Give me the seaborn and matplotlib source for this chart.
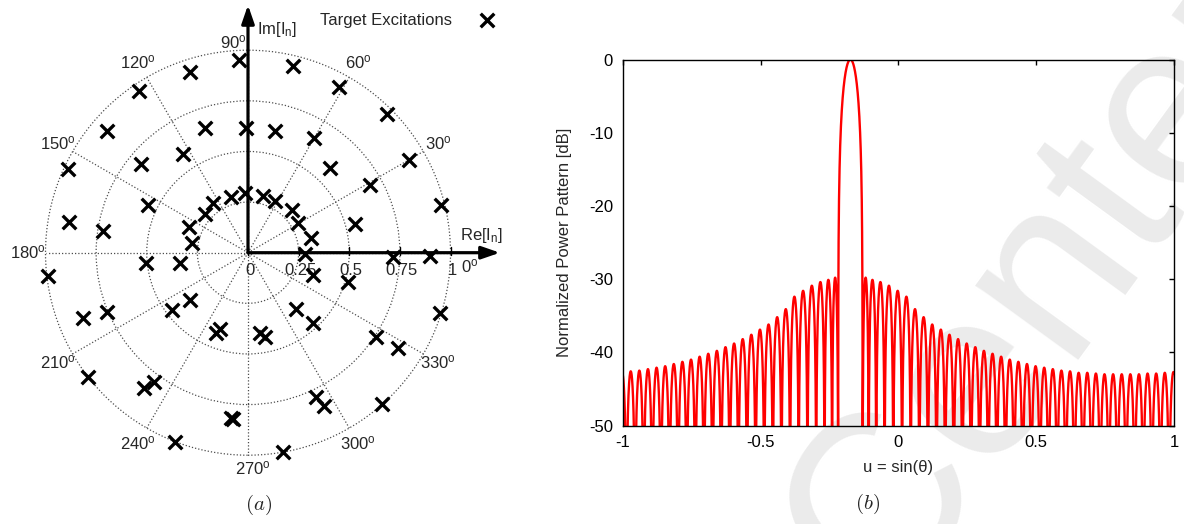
import numpy as np
import pandas as pd
import matplotlib
matplotlib.use("Agg")
import matplotlib.pyplot as plt
import seaborn as sns
from matplotlib.patches import Circle

# ---------------------------------------------------------------------------
# (a) target excitations in the complex plane
# ---------------------------------------------------------------------------
exc_re = [-0.044, -0.286, -0.540, -0.695, -0.212, -0.010, -0.320, -0.528,
          -0.890, -0.492, -0.085, -0.015, -0.174, -0.212, -0.884, -0.715,
          -0.291, -0.278, 0.224, 0.451, 0.685, 0.133, 0.326, 0.405,
          0.795, 0.602, 0.953, 0.076, 0.133, 0.219, 0.245, 0.528,
          0.310, 0.281, -0.504, -0.336, -0.986, -0.813, -0.698, -0.377,
          -0.286, -0.160, -0.138, -0.789, -0.512, -0.464, -0.084, -0.072,
          -0.360, 0.718, 0.899, 0.322, 0.492, 0.236, 0.322, 0.059,
          0.084, 0.631, 0.739, 0.948, 0.334, 0.375, 0.660, 0.174]
exc_im = [0.952, 0.891, 0.800, 0.601, 0.617, 0.616, 0.489, 0.440,
          0.412, 0.236, 0.277, 0.293, 0.244, 0.190, 0.150, 0.107,
          0.125, 0.049, 0.923, 0.820, 0.685, 0.601, 0.565, 0.420,
          0.458, 0.334, 0.236, 0.281, 0.255, 0.211, 0.145, 0.140,
          0.071, -0.006, -0.049, -0.049, -0.115, -0.324, -0.294, -0.283,
          -0.234, -0.398, -0.377, -0.612, -0.670, -0.637, -0.814, -0.821,
          -0.936, -0.023, -0.016, -0.110, -0.146, -0.280, -0.349, -0.398,
          -0.418, -0.418, -0.469, -0.296, -0.711, -0.757, -0.749, -0.983]

ring_radii = [0.25, 0.5, 0.75, 1.0]
ring_labels = ["0", "0.25", "0.5", "0.75", "1"]
spoke_angles = [0, 30, 60, 90, 120, 150, 180, 210, 240, 270, 300, 330]

# ---------------------------------------------------------------------------
# (b) normalized power pattern: main beam direction, lobe nulls and peaks
# ---------------------------------------------------------------------------
beam_u = -0.174            # main beam direction in u = sin(theta)
lobe_step = 0.03125        # far sidelobe spacing in u
# nulls measured from the beam axis, in units of lobe_step
null_pos = [1.42, 2.12, 3.0, 3.97, 4.98, 6, 7, 8, 9, 10, 11, 12, 13, 14, 15,
            16, 17, 18, 19, 20, 21, 22, 23, 24, 25, 26, 27, 28, 29, 30, 31,
            32, 33, 34, 35, 36, 37, 38]
# sidelobe peak levels [dB], first sidelobe outward
sidelobe_db = [-29.8, -30.1, -30.4, -30.9, -31.6, -32.4, -34.1, -35.2, -36.2,
               -36.9, -37.6, -38.2, -38.8, -39.3, -39.8, -40.2, -40.6, -41.0,
               -41.3, -41.6, -41.9, -42.1, -42.3, -42.5, -42.6, -42.8, -42.8,
               -42.9, -43.0, -43.0, -43.0, -43.0, -43.0, -42.9, -42.9, -42.8,
               -42.7]
x_ticks = [-1, -0.5, 0, 0.5, 1]
x_ticklabels = ["-1", "-0.5", "0", "0.5", "1"]
y_ticks = [0, -10, -20, -30, -40, -50]
y_ticklabels = ["0", "-10", "-20", "-30", "-40", "-50"]

# ---------------------------------------------------------------------------
sns.set_style("white")
plt.rcParams["font.family"] = ["Liberation Sans", "DejaVu Sans"]
plt.rcParams["mathtext.fontset"] = "custom"
plt.rcParams["mathtext.rm"] = "Liberation Sans"
plt.rcParams["mathtext.it"] = "Liberation Sans:italic"
plt.rcParams["axes.unicode_minus"] = False

W, H = 1184, 524
fig = plt.figure(figsize=(W / 100, H / 100), dpi=100)
fig.patch.set_facecolor("white")

# watermark behind both panels
fig.text(884 / W, -87 / H, "Center", rotation=54, rotation_mode="anchor",
         ha="left", va="baseline", fontsize=173, color="#ebebeb", zorder=-5)

# ---------------- panel (a) ----------------
cx, cy, R = 248.0, 252.7, 202.5   # centre and unit radius in pixels
ax_a = fig.add_axes([0, 44 / H, 520 / W, 480 / H])
ax_a.set_xlim(-cx / R, (520 - cx) / R)
ax_a.set_ylim((cy - 480) / R, cy / R)
ax_a.axis("off")
ax_a.patch.set_alpha(0)

grid_kw = dict(color="0.3", lw=0.9, linestyle=(0, (1, 1.6)))
for r in ring_radii:
    ax_a.add_patch(Circle((0, 0), r, fill=False, **grid_kw))
for ang in spoke_angles:
    t = np.deg2rad(ang)
    ax_a.plot([0, np.cos(t)], [0, np.sin(t)], **grid_kw)

arrow_kw = dict(arrowstyle="-|>,head_length=1.1,head_width=0.38",
                lw=2.3, color="black", shrinkA=0, shrinkB=0)
ax_a.annotate("", xy=(1.244, 0), xytext=(0, 0), arrowprops=arrow_kw)
ax_a.annotate("", xy=(0, 1.223), xytext=(0, 0), arrowprops=arrow_kw)
ax_a.text(1.151, 0.087, r"Re[I$_{\rm n}$]", fontsize=12, ha="center", va="center")
ax_a.text(0.143, 1.100, r"Im[I$_{\rm n}$]", fontsize=12, ha="center", va="center")

for r in [0.0] + ring_radii:
    ax_a.plot([r, r], [-0.012, 0.03], color="black", lw=1)
for r, lab in zip([0.0] + ring_radii, ring_labels):
    ax_a.text(r + 0.01, -0.09, lab, fontsize=12, ha="center", va="center")

label_shift = {0: (0.01, -0.066), 90: (-0.074, -0.044), 270: (0.025, 0.022)}
for ang in spoke_angles:
    t = np.deg2rad(ang)
    dx, dy = label_shift.get(ang, (0, 0))
    ax_a.text(1.085 * np.cos(t) + dx, 1.085 * np.sin(t) + dy,
              f"{ang}" + r"$^{\rm o}$", fontsize=12, ha="center", va="center")

sns.scatterplot(x=exc_re, y=exc_im, marker="x", s=96, color="black",
                linewidth=2.4, label="Target Excitations", ax=ax_a, zorder=5)
ax_a.legend(loc="center right", bbox_to_anchor=(495 / 520, 1 - 20 / 480),
            markerfirst=False, frameon=False, handlelength=1.0,
            handletextpad=1.6, borderpad=0, borderaxespad=0, fontsize=12)

# ---------------- panel (b) ----------------
left, right, top, bottom = 622.7, 1174.0, 59.5, 425.5
ax_b = fig.add_axes([left / W, (H - bottom) / H, (right - left) / W, (bottom - top) / H])
ax_b.patch.set_alpha(0)

u = np.linspace(-1, 1, 8001)
off = np.abs(u - beam_u) / lobe_step
nulls = np.asarray(null_pos, dtype=float)
levels = np.asarray(sidelobe_db, dtype=float)
db = np.empty_like(u)
main = off < nulls[0]
db[main] = 20 * np.log10(np.maximum(np.cos(0.5 * np.pi * off[main] / nulls[0]), 1e-5))
side = ~main
k = np.clip(np.searchsorted(nulls, off[side], side="right") - 1, 0, len(levels) - 1)
frac = (off[side] - nulls[k]) / (nulls[k + 1] - nulls[k])
db[side] = levels[k] + 20 * np.log10(np.maximum(np.sin(np.pi * frac), 1e-5))
pattern = pd.DataFrame({"u": u, "P": db})

sns.lineplot(data=pattern, x="u", y="P", estimator=None, sort=False,
             color="red", lw=1.7, ax=ax_b)
ax_b.set_xlim(-1, 1)
ax_b.set_ylim(-50, 0)
ax_b.set_xticks(x_ticks)
ax_b.set_xticklabels(x_ticklabels)
ax_b.set_yticks(y_ticks)
ax_b.set_yticklabels(y_ticklabels)
ax_b.tick_params(direction="in", length=3.6, width=1, top=True, right=True,
                 labelsize=12, pad=7, colors="black")
for sp in ax_b.spines.values():
    sp.set_color("black")
    sp.set_linewidth(1.0)
    sp.set_visible(True)
ax_b.set_xlabel("u = sin(θ)", fontsize=12)
ax_b.set_ylabel("Normalized Power Pattern [dB]", fontsize=12)
ax_b.xaxis.set_label_coords(0.5, (bottom - 460) / (bottom - top))
ax_b.yaxis.set_label_coords((572 - left) / (right - left), 0.5)

# captions
fig.text(259 / W, 1 - 505 / H, r"$(a)$", fontsize=15, ha="center", va="center",
         math_fontfamily="cm")
fig.text(868 / W, 1 - 504 / H, r"$(b)$", fontsize=15, ha="center", va="center",
         math_fontfamily="cm")

fig.savefig("out.png", dpi=100)
